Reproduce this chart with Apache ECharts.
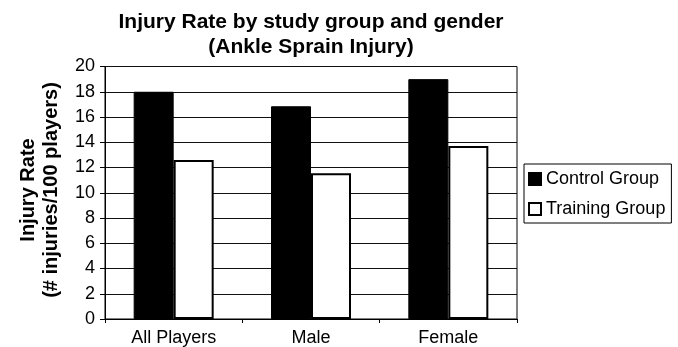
<!DOCTYPE html>
<html>
<head>
<meta charset="utf-8">
<script src="https://cdn.jsdelivr.net/npm/echarts@6/dist/echarts.min.js"></script>
<style>
  html, body { margin: 0; padding: 0; background: #fff; }
  #chart { width: 678px; height: 347px; }
</style>
</head>
<body>
<div id="chart"></div>
<script>
// Ankle sprain injury rate per 100 players, by study group and gender
const categories = ['All Players', 'Male', 'Female'];
const controlGroup = [18.0, 16.85, 19.0];
const trainingGroup = [12.6, 11.55, 13.7];
const seriesNames = ['Control Group', 'Training Group'];
const titleLines = ['Injury Rate by study group and gender', '(Ankle Sprain Injury)'];
const yTitleLines = ['Injury Rate', '(# injuries/100 players)'];

const FONT = 'Liberation Sans, Arial, Helvetica, sans-serif';

const chart = echarts.init(document.getElementById('chart'), null, { renderer: 'canvas' });

chart.setOption({
  backgroundColor: '#fff',
  animation: false,
  textStyle: { fontFamily: FONT, color: '#000' },
  title: {
    text: titleLines.join('\n'),
    left: 311,
    top: 10,
    textAlign: 'center',
    padding: 0,
    textStyle: {
      fontFamily: FONT,
      fontSize: 21,
      fontWeight: 'bold',
      color: '#000',
      lineHeight: 25
    }
  },
  graphic: [{
    type: 'text',
    x: 40,
    y: 190,
    rotation: Math.PI / 2,
    style: {
      text: yTitleLines.join('\n'),
      fontFamily: FONT,
      fontSize: 20,
      fontWeight: 'bold',
      fill: '#000',
      lineHeight: 23,
      align: 'center',
      verticalAlign: 'middle'
    }
  }],
  legend: {
    orient: 'vertical',
    left: 524,
    top: 164,
    padding: [6, 6, 5, 4],
    itemGap: 12,
    itemWidth: 12,
    itemHeight: 12,
    icon: 'rect',
    borderColor: '#000',
    borderWidth: 1,
    textStyle: { fontFamily: FONT, fontSize: 18, color: '#000' },
    data: seriesNames
  },
  grid: {
    left: 105,
    top: 66.5,
    width: 412,
    height: 255,
    show: true,
    borderColor: '#000',
    borderWidth: 1,
    backgroundColor: '#fff'
  },
  xAxis: {
    type: 'category',
    data: categories,
    axisLine: { lineStyle: { color: '#000', width: 1 } },
    axisTick: { show: true, length: 4, lineStyle: { color: '#000' } },
    axisLabel: { margin: 10, fontFamily: FONT, fontSize: 18, color: '#000' }
  },
  yAxis: {
    type: 'value',
    min: 0,
    max: 20,
    interval: 2,
    axisLine: { show: true, lineStyle: { color: '#000', width: 1 } },
    axisTick: { show: true, length: 5, lineStyle: { color: '#000' } },
    axisLabel: { margin: 10, fontFamily: FONT, fontSize: 18, color: '#000' },
    splitLine: { show: true, lineStyle: { color: '#111', width: 1.2 } }
  },
  series: [
    {
      name: seriesNames[0],
      type: 'bar',
      data: controlGroup,
      barWidth: 40,
      barGap: '0%',
      itemStyle: { color: '#000', borderColor: '#000', borderWidth: 1 }
    },
    {
      name: seriesNames[1],
      type: 'bar',
      data: trainingGroup,
      barWidth: 40,
      barGap: '0%',
      itemStyle: { color: '#fff', borderColor: '#000', borderWidth: 2 }
    }
  ]
});
</script>
</body>
</html>
